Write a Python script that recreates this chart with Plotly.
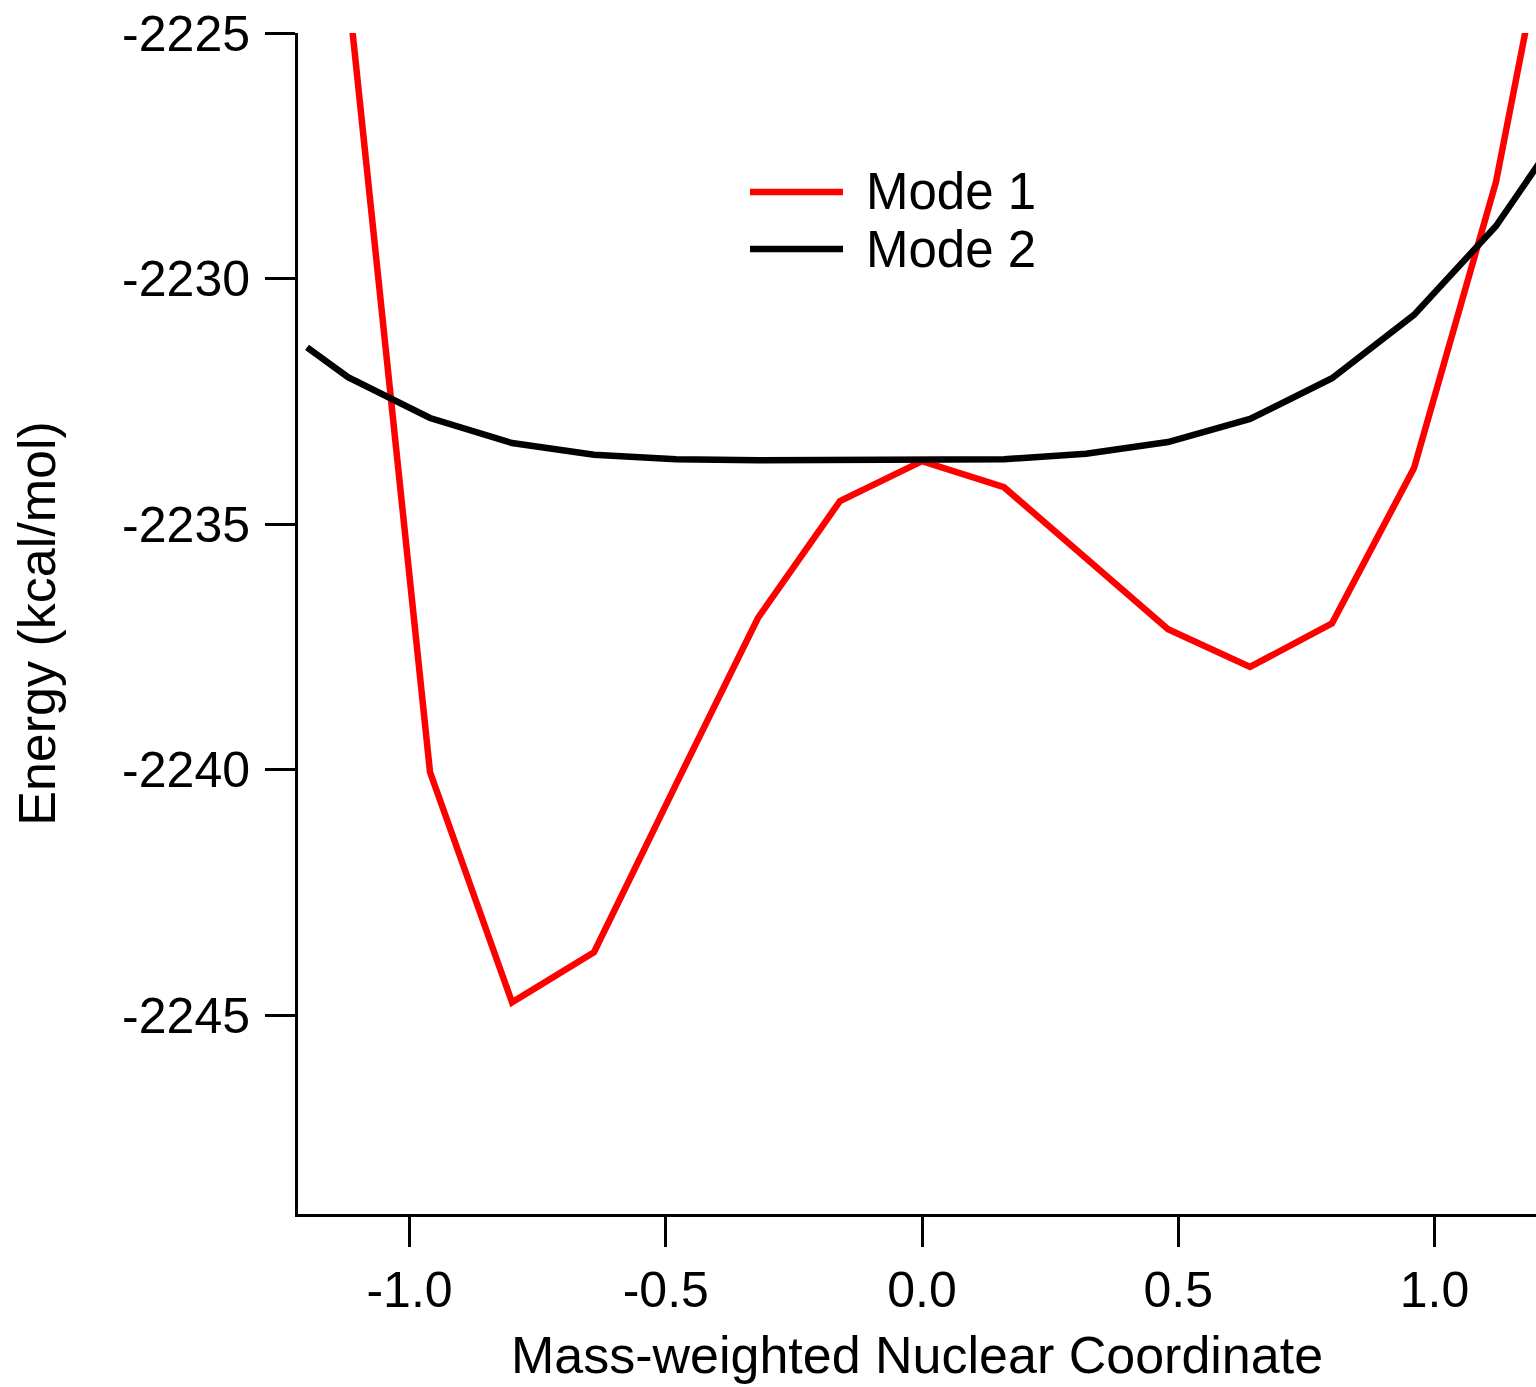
import plotly.graph_objects as go

# ---- data ----
mode1_x = [-1.12, -0.96, -0.80, -0.64, -0.48, -0.32, -0.16, 0.00, 0.16, 0.32, 0.48, 0.64, 0.80, 0.96, 1.12, 1.28]
mode1_y = [-2224.1, -2240.05, -2244.74, -2243.72, -2240.3, -2236.91, -2234.53, -2233.72,
           -2234.25, -2235.7, -2237.14, -2237.91, -2237.02, -2233.86, -2228.03, -2219.5]

mode2_x = [-1.20, -1.12, -0.96, -0.80, -0.64, -0.48, -0.32, -0.16, 0.00, 0.16, 0.32, 0.48, 0.64, 0.80, 0.96, 1.12, 1.28]
mode2_y = [-2231.40, -2232.01, -2232.84, -2233.35, -2233.59, -2233.68, -2233.70, -2233.70, -2233.70,
           -2233.68, -2233.57, -2233.33, -2232.86, -2232.03, -2230.74, -2228.93, -2226.5]

series_names = ["Mode 1", "Mode 2"]
series_colors = ["#ff0000", "#000000"]

x_tickvals = [-1.0, -0.5, 0.0, 0.5, 1.0]
x_ticktext = ["-1.0", "-0.5", "0.0", "0.5", "1.0"]
y_tickvals = [-2245, -2240, -2235, -2230, -2225]
y_ticktext = ["-2245", "-2240", "-2235", "-2230", "-2225"]

x_title = "Mass-weighted Nuclear Coordinate"
y_title = "Energy (kcal/mol)"

FONT = "Arial, 'Liberation Sans', sans-serif"
LW = 6.5

fig = go.Figure()
fig.add_trace(go.Scatter(x=mode1_x, y=mode1_y, mode="lines", name=series_names[0],
                         line=dict(color=series_colors[0], width=LW), showlegend=False))
fig.add_trace(go.Scatter(x=mode2_x, y=mode2_y, mode="lines", name=series_names[1],
                         line=dict(color=series_colors[1], width=LW), showlegend=False))

# manual legend (long line samples as in the reference)
W, H = 1536, 1387
ML, MR, MT, MB = 298, 0, 33, 173
pw, ph = W - ML - MR, H - MT - MB


def px2paper_x(px):
    return (px - ML) / pw


def px2paper_y(py):
    return (H - MB - py) / ph


legend_rows_y = [192, 249]
for name, color, ry in zip(series_names, series_colors, legend_rows_y):
    fig.add_shape(type="line", xref="paper", yref="paper",
                  x0=px2paper_x(750), x1=px2paper_x(843),
                  y0=px2paper_y(ry), y1=px2paper_y(ry),
                  line=dict(color=color, width=LW))
    fig.add_annotation(text=name, xref="paper", yref="paper",
                       x=px2paper_x(864), y=px2paper_y(ry),
                       xanchor="left", yanchor="middle", showarrow=False,
                       font=dict(family=FONT, size=51, color="black"))

fig.update_layout(
    width=W, height=H,
    margin=dict(l=ML, r=MR, t=MT, b=MB),
    paper_bgcolor="white", plot_bgcolor="white",
    font=dict(family=FONT, size=50, color="black"),
)

fig.update_xaxes(
    range=[-1.2176, 1.198], showgrid=False, zeroline=False,
    showline=True, linecolor="black", linewidth=3,
    ticks="outside", ticklen=30, tickwidth=3, tickcolor="black",
    tickvals=x_tickvals, ticktext=x_ticktext,
    tickfont=dict(family=FONT, size=50, color="black"),
    title=dict(text=x_title, font=dict(family=FONT, size=52, color="black"), standoff=20),
)
fig.update_yaxes(
    range=[-2249.05, -2225], showgrid=False, zeroline=False,
    showline=True, linecolor="black", linewidth=3,
    ticks="outside", ticklen=30, tickwidth=3, tickcolor="black",
    tickvals=y_tickvals, ticktext=y_ticktext, ticklabelstandoff=5,
    tickfont=dict(family=FONT, size=50, color="black"),
    title=dict(text=y_title, font=dict(family=FONT, size=52, color="black"), standoff=50),
)

fig.write_html("out.html")
